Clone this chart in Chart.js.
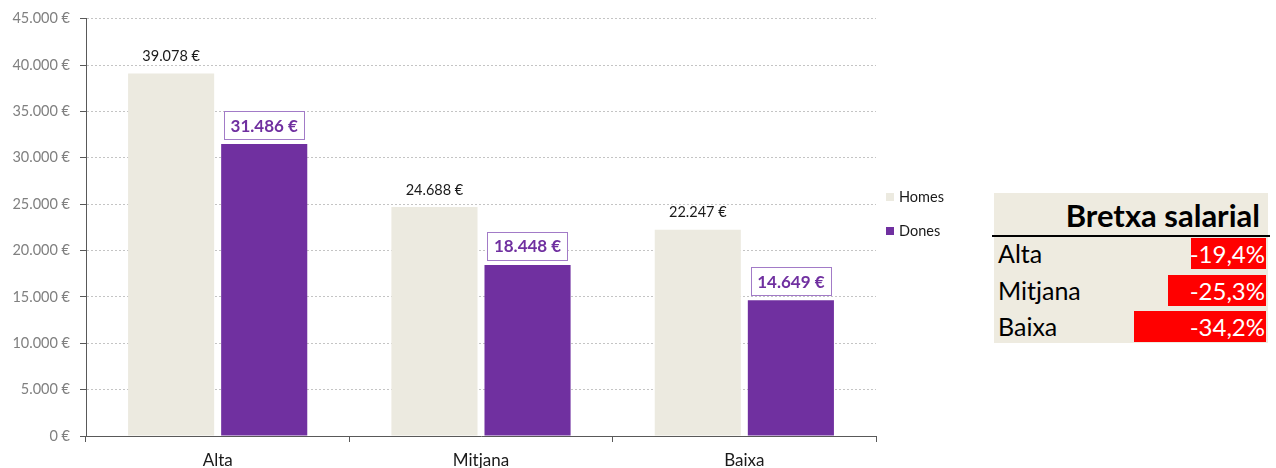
<!DOCTYPE html>
<html>
<head>
<meta charset="utf-8">
<script src="https://cdn.jsdelivr.net/npm/chart.js@4/dist/chart.umd.min.js"></script>
<style>
  body { margin: 0; background: #fff; font-family: Lato, "Noto Sans", sans-serif; }
  #wrap { position: absolute; left: 0; top: 0; width: 960px; height: 468px; }
  #bretxa { position: absolute; left: 994px; top: 193px; width: 274px; height: 150px; background: #EEEBE0; }
  #bretxa .head { position: absolute; left: 0; top: 0; width: 266px; height: 42px; line-height: 44px; text-align: right; font-weight: bold; font-size: 31px; color: #000; }
  #bretxa .rule { position: absolute; left: -2px; top: 42px; width: 278px; height: 2px; background: #000; }
  #bretxa .row { position: absolute; left: 0; width: 274px; height: 31px; }
  #bretxa .name { position: absolute; left: 4px; top: 0; line-height: 31px; font-size: 25px; color: #000; }
  #bretxa .bar { position: absolute; right: 2px; top: 0; height: 31px; background: #FF0000; }
  #bretxa .pct { position: absolute; right: 3px; top: 0; line-height: 31px; font-size: 24px; color: #fff; }
</style>
</head>
<body>
<div id="wrap"><canvas id="salaryChart"></canvas></div>
<div id="bretxa">
  <div class="head">Bretxa salarial</div>
  <div class="rule"></div>
</div>
<script>
const categories = ['Alta', 'Mitjana', 'Baixa'];
const homes = [39078, 24688, 22247];
const dones = [31486, 18448, 14649];
const gapLabels = ['-19,4%', '-25,3%', '-34,2%'];
const gapValues = [19.4, 25.3, 34.2];

function euro(v) {
  return String(v).replace(/\B(?=(\d{3})+(?!\d))/g, '.') + ' €';
}

// etiquetes de valor sobre les barres
const valueLabels = {
  id: 'valueLabels',
  afterDatasetsDraw(chart) {
    const ctx = chart.ctx;
    ctx.save();
    ctx.textAlign = 'center';
    ctx.textBaseline = 'middle';
    chart.data.datasets.forEach((ds, i) => {
      chart.getDatasetMeta(i).data.forEach((bar, j) => {
        const text = euro(ds.data[j]);
        if (i === 0) {
          ctx.font = '14.5px Lato';
          ctx.fillStyle = '#1a1a1a';
          ctx.fillText(text, bar.x, bar.y - 17);
        } else {
          ctx.font = 'bold 17px Lato';
          const w = ctx.measureText(text).width + 13;
          const h = 28;
          const cy = bar.y - 19;
          ctx.fillStyle = '#fff';
          ctx.fillRect(bar.x - w / 2, cy - h / 2, w, h);
          ctx.strokeStyle = '#A27BC7';
          ctx.lineWidth = 1;
          ctx.strokeRect(Math.round(bar.x - w / 2) + 0.5, Math.round(cy - h / 2) + 0.5, Math.round(w), h);
          ctx.fillStyle = '#7030A0';
          ctx.fillText(text, bar.x, cy + 1);
        }
      });
    });
    ctx.restore();
  }
};

// llegenda a la dreta de l'àrea del gràfic
const sideLegend = {
  id: 'sideLegend',
  afterDraw(chart) {
    const ctx = chart.ctx;
    const x = chart.chartArea.right + 10;
    ctx.save();
    ctx.font = '14.5px Lato';
    ctx.textBaseline = 'middle';
    chart.data.datasets.forEach((ds, i) => {
      const y = 197 + i * 34;
      ctx.fillStyle = ds.backgroundColor;
      ctx.fillRect(x, y - 4, 8, 8);
      ctx.fillStyle = '#1a1a1a';
      ctx.fillText(ds.label, x + 13, y);
    });
    ctx.restore();
  }
};

new Chart(document.getElementById('salaryChart'), {
  type: 'bar',
  data: {
    labels: categories,
    datasets: [
      { label: 'Homes', data: homes, backgroundColor: '#ECEAE0' },
      { label: 'Dones', data: dones, backgroundColor: '#7030A0' }
    ]
  },
  options: {
    responsive: true,
    maintainAspectRatio: false,
    animation: false,
    categoryPercentage: 0.707,
    barPercentage: 0.925,
    layout: { padding: { top: 18, right: 84, bottom: 0, left: 0 } },
    plugins: { legend: { display: false }, tooltip: { enabled: false } },
    scales: {
      x: {
        afterFit(scale) { scale.height = 32; },
        grid: { drawOnChartArea: false, drawTicks: true, tickLength: 6, tickColor: '#595959' },
        border: { color: '#595959', width: 1 },
        ticks: { color: '#1a1a1a', font: { family: 'Lato', size: 17 }, padding: 8 }
      },
      y: {
        min: 0,
        max: 45000,
        afterFit(scale) { scale.width = 86; },
        grid: { color: '#c4c4c4', tickLength: 6, tickColor: '#595959', tickBorderDash: [] },
        border: { color: '#595959', width: 1, dash: [2, 2] },
        ticks: {
          stepSize: 5000,
          padding: 10,
          color: '#808080',
          font: { family: 'Lato', size: 14.5 },
          callback: v => euro(v)
        }
      }
    }
  },
  plugins: [valueLabels, sideLegend]
});

// taula de la bretxa salarial
const table = document.getElementById('bretxa');
categories.forEach((c, i) => {
  const row = document.createElement('div');
  row.className = 'row';
  row.style.top = (45 + i * 36.5) + 'px';
  row.innerHTML = '<div class="name">' + c + '</div>' +
    '<div class="bar" style="width:' + (gapValues[i] * 3.86) + 'px"></div>' +
    '<div class="pct">' + gapLabels[i] + '</div>';
  table.appendChild(row);
});
</script>
</body>
</html>
